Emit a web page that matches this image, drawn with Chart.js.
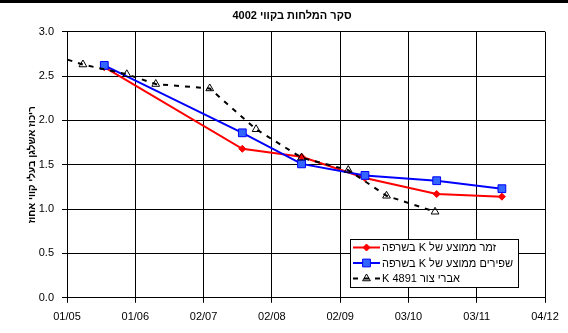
<!DOCTYPE html>
<html>
<head>
<meta charset="utf-8">
<script src="https://cdn.jsdelivr.net/npm/chart.js@4.4.0/dist/chart.umd.min.js"></script>
<style>
  html, body { margin: 0; padding: 0; background: #fff; }
</style>
</head>
<body>
<canvas id="salinity-chart" width="568" height="333" dir="rtl"></canvas>
<script>
var DAY = 86400000;
var axisStart = Date.parse("2005-01-12");
var axisStep = 377 * DAY;
var tickLabels = ["01/05", "01/06", "02/07", "02/08", "02/09", "03/10", "03/11", "04/12"];

var sampleDates = ["2005-08-06", "2007-09-07", "2008-07-30", "2009-07-15", "2010-08-15", "2011-08-10"];
var zemerValues = [2.60, 1.68, 1.59, 1.35, 1.17, 1.14];
var shapirimValues = [2.62, 1.86, 1.51, 1.38, 1.32, 1.23];

var tzurDates = ["2004-09-21", "2005-04-10", "2005-12-08", "2006-05-17", "2007-03-11",
                 "2007-11-22", "2008-07-30", "2009-04-14", "2009-11-11", "2010-08-06"];
var tzurValues = [2.76, 2.63, 2.52, 2.41, 2.36, 1.90, 1.58, 1.44, 1.15, 0.97];

var seriesLabels = ["זמר ממוצע של K בשרפה", "שפירים ממוצע של K בשרפה", "אברי צור K 4891"];

function toPoints(dates, values) {
  return dates.map(function(d, i) {
    return { x: Date.parse(d), y: values[i] };
  });
}

var FONT = "'Liberation Sans', Arial, sans-serif";
Chart.defaults.font.family = FONT;
Chart.defaults.font.size = 11;
Chart.defaults.color = "#000";

// white background + black band at the very top
var background = {
  id: "background",
  beforeDraw: function(chart) {
    var ctx = chart.ctx;
    ctx.save();
    ctx.fillStyle = "#fff";
    ctx.fillRect(0, 0, chart.width, chart.height);
    ctx.fillStyle = "#000";
    ctx.fillRect(0, 0, chart.width, 3);
    ctx.restore();
  }
};

// legend box inside the plot, like the excel one
var boxLegend = {
  id: "boxLegend",
  afterDraw: function(chart) {
    var ctx = chart.ctx;
    var x = 350.5, y = 239.5, w = 168, h = 48;
    ctx.save();
    ctx.fillStyle = "#fff";
    ctx.fillRect(x, y, w, h);
    ctx.strokeStyle = "#000";
    ctx.lineWidth = 1;
    ctx.strokeRect(x, y, w, h);
    chart.data.datasets.forEach(function(ds, i) {
      var rowY = 247.5 + i * 15.5;
      ctx.strokeStyle = ds.borderColor;
      ctx.lineWidth = ds.borderWidth;
      ctx.setLineDash(ds.borderDash || []);
      ctx.beginPath();
      ctx.moveTo(353, rowY);
      ctx.lineTo(380, rowY);
      ctx.stroke();
      ctx.setLineDash([]);
      if (Chart.helpers && Chart.helpers.drawPoint) {
        ctx.fillStyle = ds.pointBackgroundColor;
        ctx.strokeStyle = ds.pointBorderColor;
        ctx.lineWidth = ds.pointBorderWidth;
        Chart.helpers.drawPoint(ctx, {
          pointStyle: ds.pointStyle,
          radius: ds.pointRadius,
          borderWidth: ds.pointBorderWidth,
          rotation: 0
        }, 366.5, rowY);
      }
      ctx.fillStyle = "#000";
      ctx.font = "11px " + FONT;
      ctx.textAlign = "left";
      ctx.textBaseline = "middle";
      ctx.fillText(ds.label, 382, rowY + 0.5);
    });
    ctx.restore();
  }
};

var ctx = document.getElementById("salinity-chart").getContext("2d");
var salinityChart = new Chart(ctx, {
  type: "line",
  data: {
    datasets: [{
      label: seriesLabels[0],
      data: toPoints(sampleDates, zemerValues),
      borderColor: "#ff0000",
      borderWidth: 2,
      pointStyle: "rectRot",
      pointRadius: 3.5,
      pointBackgroundColor: "#ff0000",
      pointBorderColor: "#ff0000",
      pointBorderWidth: 1,
      tension: 0,
      order: 3
    }, {
      label: seriesLabels[1],
      data: toPoints(sampleDates, shapirimValues),
      borderColor: "#0000ff",
      borderWidth: 2,
      pointStyle: "rect",
      pointRadius: 5.5,
      pointBackgroundColor: "#3366ff",
      pointBorderColor: "#0000ff",
      pointBorderWidth: 1,
      tension: 0,
      order: 2
    }, {
      label: seriesLabels[2],
      data: toPoints(tzurDates, tzurValues),
      borderColor: "#000000",
      borderWidth: 2,
      borderDash: [5, 6],
      pointStyle: "triangle",
      pointRadius: 4.5,
      pointBackgroundColor: "rgba(0,0,0,0)",
      pointBorderColor: "#000000",
      pointBorderWidth: 1,
      tension: 0,
      order: 1
    }]
  },
  options: {
    responsive: false,
    animation: false,
    events: [],
    layout: {
      padding: { left: 16, right: 0, top: 0, bottom: 1 }
    },
    scales: {
      x: {
        type: "linear",
        min: axisStart,
        max: axisStart + (tickLabels.length - 1) * axisStep,
        afterBuildTicks: function(scale) {
          scale.ticks = tickLabels.map(function(l, i) {
            return { value: axisStart + i * axisStep };
          });
        },
        afterFit: function(scale) {
          scale.paddingRight = 23;
        },
        ticks: {
          callback: function(value, index) {
            return tickLabels[index];
          },
          autoSkip: false,
          maxRotation: 0,
          padding: 8,
          color: "#000"
        },
        grid: {
          color: "#000",
          lineWidth: 1,
          tickLength: 5
        },
        border: {
          color: "#000",
          width: 1
        }
      },
      y: {
        min: 0,
        max: 3,
        ticks: {
          stepSize: 0.5,
          callback: function(value) {
            return value.toFixed(1);
          },
          padding: 8,
          color: "#000"
        },
        grid: {
          color: "#000",
          lineWidth: 1,
          tickLength: 5
        },
        border: {
          color: "#000",
          width: 1
        },
        title: {
          display: true,
          text: "ריכוז אשלגן בעלי קווי אחוז",
          color: "#000",
          font: { size: 10, weight: "bold" },
          padding: { top: 10, bottom: 0 }
        },
        afterFit: function(scale) {
          scale.width = 51;
        }
      }
    },
    plugins: {
      legend: { display: false },
      tooltip: { enabled: false },
      title: {
        display: true,
        text: "סקר המלחות בקווי 4002",
        color: "#000",
        font: { size: 11, weight: "bold" },
        padding: { top: 9, bottom: 9.5 }
      }
    }
  },
  plugins: [background, boxLegend]
});
</script>
</body>
</html>
